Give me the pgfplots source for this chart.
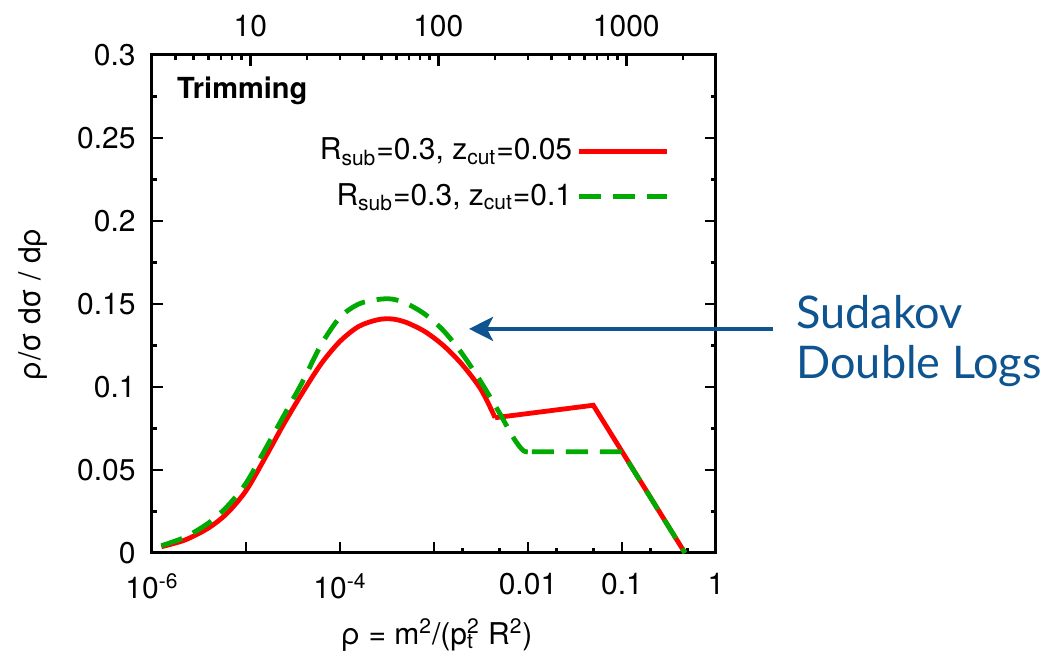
\documentclass[border=0pt]{standalone}
\usepackage{pgfplots}
\pgfplotsset{compat=1.18}
\usetikzlibrary{arrows.meta}
\usepackage{fontspec}
\setmainfont{TeX Gyre Heros}
\newfontfamily\gill{Lato}
\definecolor{myred}{RGB}{255,0,0}
\definecolor{mygreen}{RGB}{0,170,0}
\definecolor{myblue}{RGB}{14,84,145}

\begin{document}
\fontsize{15}{18}\selectfont
\begin{tikzpicture}
\useasboundingbox (-76pt,-51.5pt) rectangle (446.5pt,276.5pt);
\begin{axis}[
  scale only axis, width=282pt, height=249pt,
  at={(0,0)}, anchor=south west,
  xmode=log, xmin=1e-6, xmax=1, ymin=0, ymax=0.3,
  axis line style={line width=1.5pt},
  every tick/.style={black, line width=1.3pt},
  major tick length=5.5pt, minor tick length=2.6pt,
  tick align=inside,
  xtick={1e-6,1e-5,1e-4,1e-3,1e-2,1e-1,1},
  xticklabels={10\textsuperscript{-6},,10\textsuperscript{-4},,0.01,0.1,1},
  minor xtick={2e-3,5e-3,2e-2,5e-2,0.2,0.5},
  xtick pos=bottom,
  ytick={0,0.05,0.1,0.15,0.2,0.25,0.3},
  yticklabels={0,0.05,0.1,0.15,0.2,0.25,0.3},
  minor ytick={0.025,0.075,0.125,0.175,0.225,0.275},
  ytick pos=both, yticklabel pos=left,
  ticklabel style={font=\fontsize{15}{18}\selectfont},
  xticklabel style={yshift=-5pt},
  yticklabel style={xshift=-3pt},
  xlabel={ρ = m\textsuperscript{2}/(p\rlap{\textsubscript{t}}\textsuperscript{2} R\textsuperscript{2})},
  xlabel style={at={(axis description cs:0.505,-0.165)}, anchor=center, font=\fontsize{15}{18}\selectfont},
  ylabel={ρ/σ dσ / dρ},
  ylabel style={at={(axis description cs:-0.211,0.5)}, anchor=center, font=\fontsize{15}{18}\selectfont},
  clip=false,
  legend plot pos=right,
  legend cell align=right,
  legend image code/.code={\draw[#1] (0pt,0pt) -- (44pt,0pt);},
  legend style={draw=none, fill=none, at={(0.928,0.85)}, anchor=north east,
    row sep=5.5pt, font=\fontsize{15}{18}\selectfont},
]
\addplot[myred, line width=2.4pt, smooth, tension=0.5] coordinates {
(1.259e-6,0.0038) (2.239e-6,0.0078) (3.981e-6,0.0150) (6.310e-6,0.0240)
(1.000e-5,0.0375) (1.585e-5,0.0570) (2.512e-5,0.0775) (3.981e-5,0.0965)
(6.310e-5,0.1140) (1.000e-4,0.1275) (1.585e-4,0.1365) (2.512e-4,0.1405)
(3.548e-4,0.1410) (5.012e-4,0.1390) (7.943e-4,0.1335) (1.259e-3,0.1250)
(1.995e-3,0.1135) (3.162e-3,0.0985) (4.467e-3,0.0815)
};
\addlegendentry{R\textsubscript{sub}=0.3, z\textsubscript{cut}=0.05}
\addplot[myred, line width=2.4pt, forget plot] coordinates {
(4.467e-3,0.0815) (0.0495,0.089) (0.468,0.0)
};
\addplot[mygreen, line width=2.4pt, smooth, tension=0.5, dash pattern=on 11pt off 6pt] coordinates {
(1.259e-6,0.0044) (2.239e-6,0.0095) (3.981e-6,0.0180) (6.310e-6,0.0280)
(1.000e-5,0.0420) (1.585e-5,0.0620) (2.512e-5,0.0825) (3.981e-5,0.1030)
(6.310e-5,0.1255) (1.000e-4,0.1420) (1.585e-4,0.1500) (2.512e-4,0.1527)
(3.548e-4,0.1530) (5.012e-4,0.1505) (7.943e-4,0.1440) (1.259e-3,0.1340)
(1.995e-3,0.1200) (3.162e-3,0.1030) (5.012e-3,0.0840) (7.079e-3,0.0690)
(9.000e-3,0.0615) (1.1e-2,0.0610)
};
\addlegendentry{R\textsubscript{sub}=0.3, z\textsubscript{cut}=0.1}
\addplot[mygreen, line width=2.4pt, forget plot, dash pattern=on 11pt off 6pt] coordinates {
(1.1e-2,0.061) (0.1,0.061) (0.468,0.0)
};
\node[anchor=west, inner sep=0pt, font=\bfseries\fontsize{14.5}{17}\selectfont] at (rel axis cs:0.044,0.928) {Trimming};
\draw[myblue, line width=2pt, -{Stealth[length=12pt,width=12pt,inset=3pt]}] (axis cs:4.04,0.135) -- (axis cs:2.36e-3,0.135);
\end{axis}
\begin{axis}[
  scale only axis, width=282pt, height=249pt,
  at={(0,0)}, anchor=south west,
  xmode=log, xmin=3, xmax=3000, ymin=0, ymax=1,
  axis x line*=top, hide y axis,
  axis line style={line width=1.5pt},
  every tick/.style={black, line width=1.3pt},
  major tick length=5.5pt, minor tick length=2.6pt,
  tick align=inside,
  xtick={10,100,1000}, xticklabels={10,100,1000},
  minor xtick={4,5,6,7,8,9,20,30,40,50,60,70,80,90,200,300,400,500,600,700,800,900,2000},
  ticklabel style={font=\fontsize{15}{18}\selectfont},
  xticklabel style={yshift=4pt},
]
\addplot[draw=none, forget plot] coordinates {(10,0.5)};
\end{axis}
\node[anchor=base west, inner sep=0pt, text=myblue, font=\gill\fontsize{22.5}{27}\selectfont] at (322pt,112pt) {Sudakov};
\node[anchor=base west, inner sep=0pt, text=myblue, font=\gill\fontsize{22.5}{27}\selectfont] at (322pt,87pt) {Double Logs};
\end{tikzpicture}
\end{document}
